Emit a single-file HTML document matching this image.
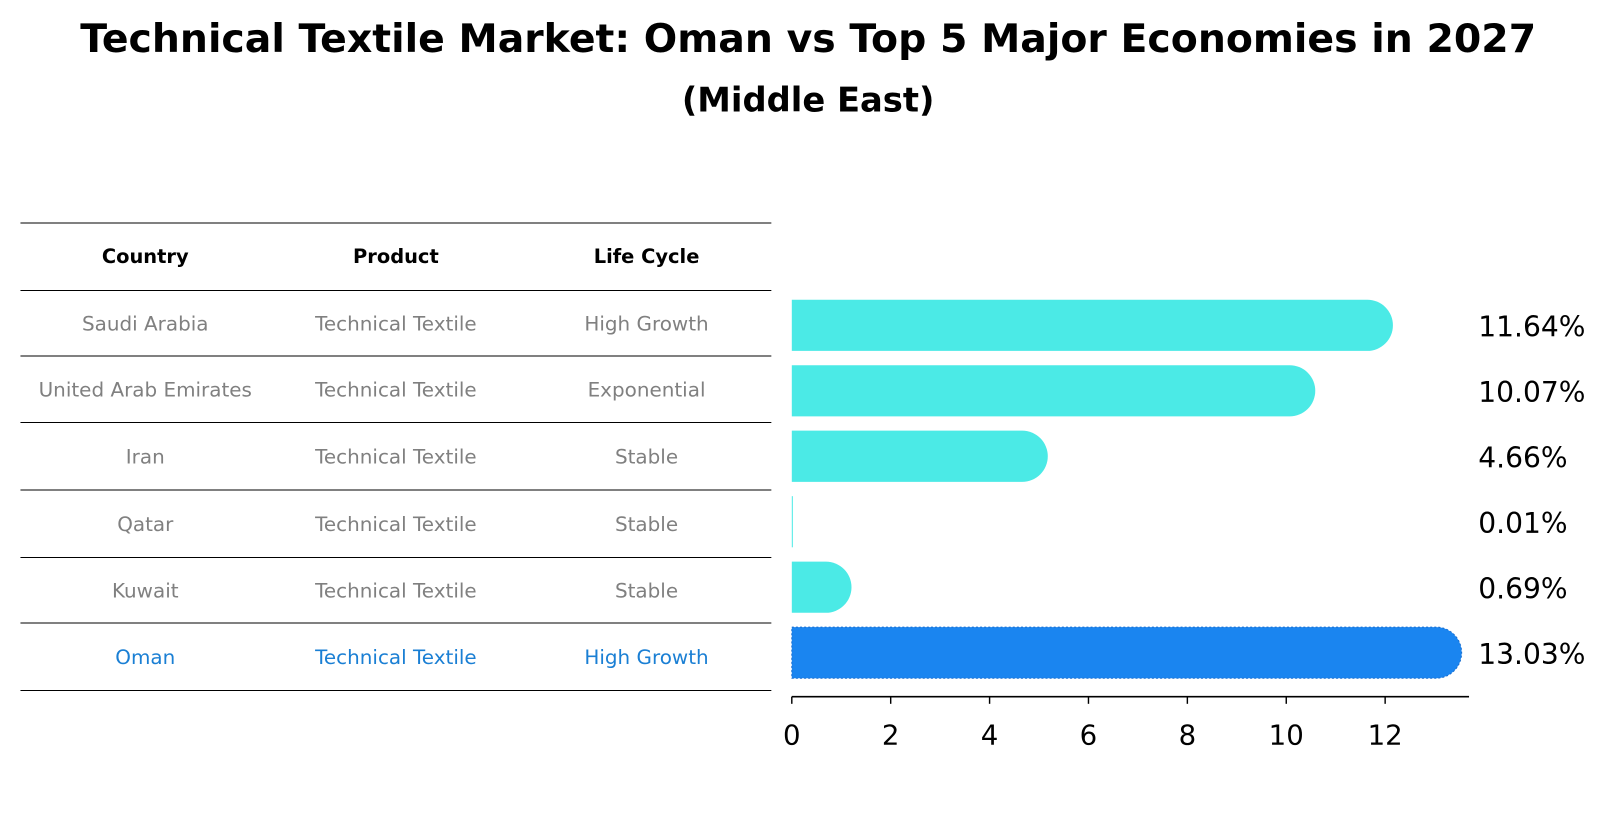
<!DOCTYPE html>
<html><head><meta charset="utf-8"><style>
body{margin:0;background:#fff;font-family:"Liberation Sans","DejaVu Sans",sans-serif}
</style></head><body>
<svg id="c" width="1604" height="823" xmlns="http://www.w3.org/2000/svg" font-family="DejaVu Sans, Liberation Sans, sans-serif">
<g transform="scale(1.023)">
<text x="790" y="51" text-anchor="middle" font-size="38.5" font-weight="bold">Technical Textile Market: Oman vs Top 5 Major Economies in 2027</text>
<text x="790" y="109" text-anchor="middle" font-size="33" font-weight="bold">(Middle East)</text>
<g id="table"></g>
<g id="bars"></g>
</g>
</svg>
<script>
const countries=["Saudi Arabia","United Arab Emirates","Iran","Qatar","Kuwait","Oman"];
const products=["Technical Textile","Technical Textile","Technical Textile","Technical Textile","Technical Textile","Technical Textile"];
const lifeCycles=["High Growth","Exponential","Stable","Stable","Stable","High Growth"];
const values=[11.64,10.07,4.66,0.01,0.69,13.03];
const valueLabels=["11.64%","10.07%","4.66%","0.01%","0.69%","13.03%"];
const xTicks=[0,2,4,6,8,10,12];

const NS="http://www.w3.org/2000/svg";
function mk(tag,attrs,parent,text){const e=document.createElementNS(NS,tag);for(const k in attrs)e.setAttribute(k,attrs[k]);if(text!==undefined)e.textContent=text;parent.appendChild(e);return e;}
const x0=774, pxPerUnit=(1354-774)/12;
const xScale=v=>x0+v*pxPerUnit;
const yCenter=i=>318+i*64;

// table
const tb=document.getElementById('table');
const lineYs=[218,284,348,413,479,545,609,675];
lineYs.forEach(y=>{const l=mk('line',{x1:20,x2:754,y1:y,y2:y,stroke:'#000','stroke-width':1},tb);

});
const colX=[142,387,632];
["Country","Product","Life Cycle"].forEach((h,j)=>{const t=mk('text',{x:colX[j],y:257,'text-anchor':'middle','font-size':19,'font-weight':'bold'},tb,h);

});
countries.forEach((c,i)=>{
  const y=(lineYs[i+1]+lineYs[i+2])/2+7;
  const col=i===countries.length-1?'#1a7fd4':'#808080';
  [c,products[i],lifeCycles[i]].forEach((v,j)=>{
    const t=mk('text',{x:colX[j],y:y,'text-anchor':'middle','font-size':19.5,fill:col},tb,v);
    
    
  });
});

// bars
const bg=document.getElementById('bars');
const h=50,r=25;
values.forEach((v,i)=>{
  const yc=yCenter(i), yt=yc-h/2, xe=xScale(v), w=xe-x0;
  const col=i===values.length-1?'#1a85f0':'#4beae6';
  let d;
  if(w<2){d=`M${x0} ${yt} h${Math.max(w,1)} v${h} h${-Math.max(w,1)} Z`;}
  else{d=`M${x0} ${yt} H${xe} A${r} ${r} 0 0 1 ${xe} ${yt+h} H${x0} Z`;}
  const p=mk('path',{d:d,fill:col},bg);
  if(i===values.length-1){p.setAttribute('stroke','#1a6fd0');p.setAttribute('stroke-dasharray','2 2');p.setAttribute('stroke-width','1');}
  
  
  const t=mk('text',{x:1445,y:yc+11,'font-size':27.5},bg,valueLabels[i]);
  
  
});
const ax=mk('line',{x1:x0,x2:1436,y1:681,y2:681,stroke:'#000','stroke-width':1.6},bg);


xTicks.forEach(v=>{
  const tk=mk('line',{x1:xScale(v),x2:xScale(v),y1:681,y2:688,stroke:'#000','stroke-width':1.4},bg);
  
  
  const t=mk('text',{x:xScale(v),y:728,'text-anchor':'middle','font-size':27},bg,String(v));
  
  
});
</script>
</body></html>
